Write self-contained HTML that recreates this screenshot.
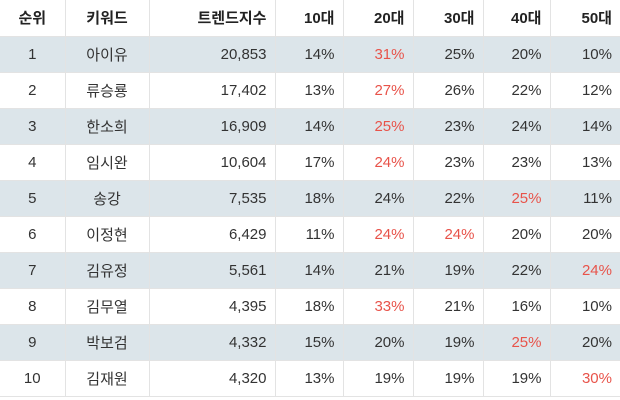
<!DOCTYPE html>
<html><head><meta charset="utf-8"><style>
body{margin:0;background:#fff;width:620px;height:400px;overflow:hidden;font-family:"Liberation Sans","Noto Sans CJK KR",sans-serif;}
table{border-collapse:collapse;table-layout:fixed;width:620px;}
td,th{height:36px;padding:0 8px;font-size:15px;color:#333;border-left:1px solid #e3e3e3;border-bottom:1px solid #e3e3e3;box-sizing:border-box;}
td:first-child,th:first-child{border-left:none;}
th{font-weight:bold;color:#222;}
tr.b td{background:#dce5ea;}
.c{text-align:center}.r{text-align:right}
.red{color:#e8534a}
</style></head><body>
<table>
<colgroup><col style="width:65px"><col style="width:84px"><col style="width:126px"><col style="width:68px"><col style="width:70px"><col style="width:70px"><col style="width:67px"><col style="width:70px"></colgroup>
<thead><tr>
<th class="c">순위</th>
<th class="c">키워드</th>
<th class="r">트렌드지수</th>
<th class="r">10대</th>
<th class="r">20대</th>
<th class="r">30대</th>
<th class="r">40대</th>
<th class="r">50대</th>
</tr></thead>
<tbody id="tb"></tbody>
</table>
<script>
const ranks=[1,2,3,4,5,6,7,8,9,10];
const keywords=["아이유","류승룡","한소희","임시완","송강","이정현","김유정","김무열","박보검","김재원"];
const trendIndex=["20,853","17,402","16,909","10,604","7,535","6,429","5,561","4,395","4,332","4,320"];
const age10=[14,13,14,17,18,11,14,18,15,13];
const age20=[31,27,25,24,24,24,21,33,20,19];
const age30=[25,26,23,23,22,24,19,21,19,19];
const age40=[20,22,24,23,25,20,22,16,25,19];
const age50=[10,12,14,13,11,20,24,10,20,30];
const tb=document.getElementById('tb');
ranks.forEach((rk,i)=>{
  const tr=document.createElement('tr');
  
  
  if(i%2===0) tr.className='b';
  const ages=[age10[i],age20[i],age30[i],age40[i],age50[i]];
  const mx=Math.max(...ages);
  const cells=[[rk,'c','rank-cell'],[keywords[i],'c','keyword-cell'],[trendIndex[i],'r','trend-index-cell']];
  ages.forEach((v,j)=>cells.push([v+'%','r'+(v===mx?' red':''),'age-'+(j+1)+'0-cell']));
  cells.forEach(c=>{
    const td=document.createElement('td');
    td.textContent=c[0];td.className=c[1];
    
    
    tr.appendChild(td);
  });
  tb.appendChild(tr);
});
</script>
</body></html>
